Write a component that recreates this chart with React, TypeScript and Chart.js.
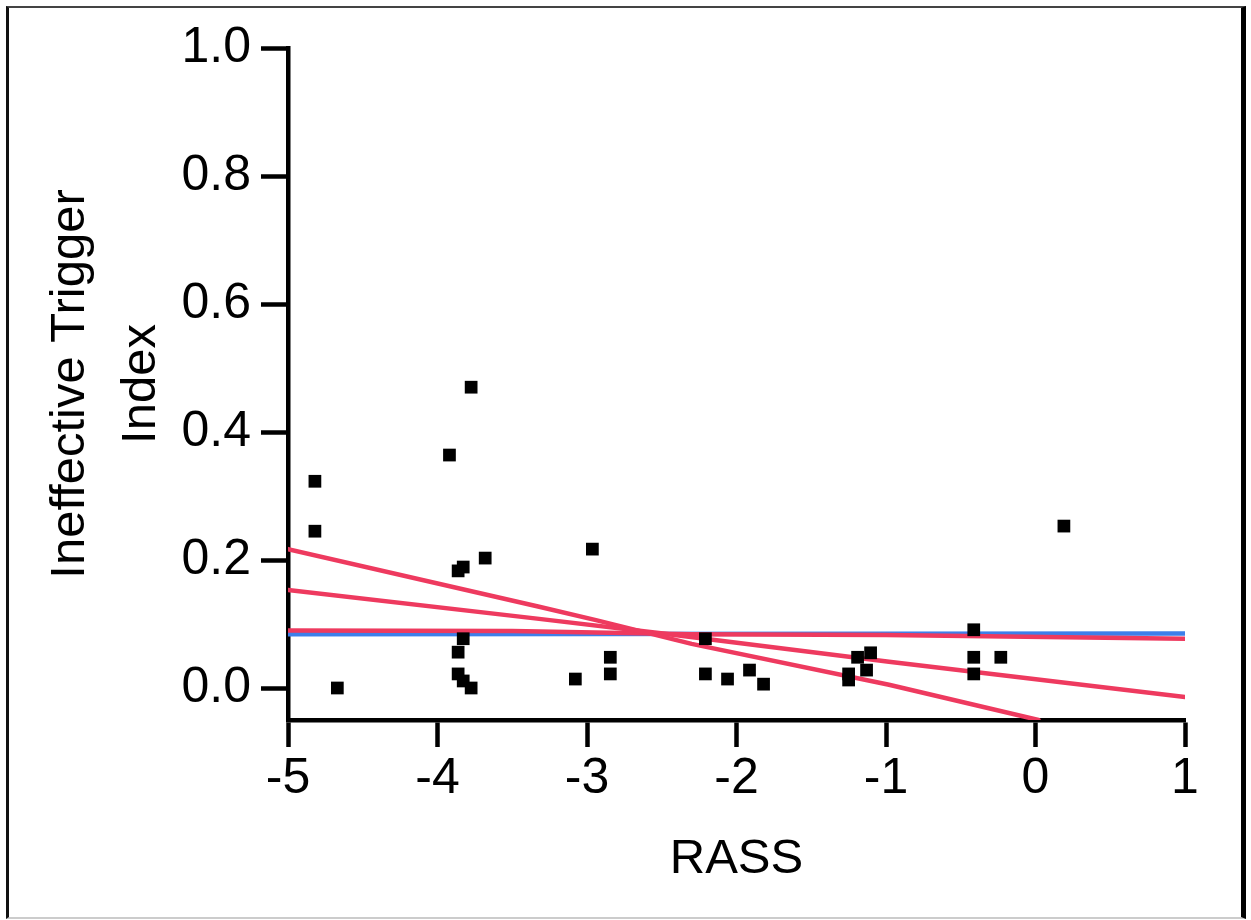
import React, { useEffect, useRef } from "react";
import { Chart, registerables } from "chart.js";

Chart.register(...registerables);

// Axis ticks
const xTicks = [-5, -4, -3, -2, -1, 0, 1];
const yTicks = [0, 0.2, 0.4, 0.6, 0.8, 1.0];

// Scatter data: RASS vs Ineffective Trigger Index
const rassValues = [
  -4.82, -4.82, -4.67, -3.92, -3.775, -3.862, -3.828, -3.681, -3.828, -3.862,
  -3.862, -3.828, -3.775, -3.078, -2.964, -2.844, -2.844, -2.208, -2.208, -2.06,
  -1.913, -1.819, -1.25, -1.25, -1.19, -1.103, -1.13, -0.413, -0.413, -0.413,
  -0.232, 0.19,
];
const itiValues = [
  0.323, 0.245, 0.0, 0.364, 0.47, 0.183, 0.189, 0.203, 0.077, 0.056,
  0.022, 0.011, 0.0, 0.014, 0.217, 0.048, 0.022, 0.077, 0.022, 0.014,
  0.028, 0.006, 0.022, 0.0125, 0.048, 0.055, 0.028, 0.091, 0.048, 0.022,
  0.048, 0.253,
];

// Fitted lines
const blueX = [-5, 1];
const blueY = [0.084, 0.085];
const redAX = [-5, -3.32, -2.94, -2.3, -0.98, 0.02];
const redAY = [0.217, 0.127, 0.106, 0.069, 0.005, -0.05];
const redBX = [-5, -3.32, -2.52, -0.98, 1];
const redBY = [0.153, 0.108, 0.086, 0.041, -0.014];
const redCX = [-5, -3.5, -2.3, -1, 1];
const redCY = [0.09, 0.089, 0.084, 0.083, 0.077];

const RED = "#ee3a5f";
const BLUE = "#3d7fea";
const FAMILY = "'Liberation Sans', Arial, Helvetica, sans-serif";

const pts = (xs: number[], ys: number[]) => xs.map((x, i) => ({ x, y: ys[i] }));

const lineDs = (xs: number[], ys: number[], color: string) => ({
  type: "scatter" as const,
  data: pts(xs, ys),
  showLine: true,
  borderColor: color,
  backgroundColor: color,
  borderWidth: 4.5,
  pointRadius: 0,
  borderCapStyle: "round" as const,
  borderJoinStyle: "round" as const,
  tension: 0,
});

export default function App() {
  const ref = useRef<HTMLCanvasElement | null>(null);

  useEffect(() => {
    if (!ref.current) return;
    const chart = new Chart(ref.current, {
      type: "scatter",
      data: {
        datasets: [
          {
            data: pts(rassValues, itiValues),
            pointStyle: "rect",
            pointRadius: 9,
            pointBorderWidth: 0,
            backgroundColor: "#000",
            borderColor: "#000",
          } as any,
          lineDs(redAX, redAY, RED),
          lineDs(redBX, redBY, RED),
          lineDs(redCX, redCY, RED),
          lineDs(blueX, blueY, BLUE),
        ],
      },
      options: {
        responsive: false,
        maintainAspectRatio: false,
        animation: false,
        devicePixelRatio: 1,
        layout: { padding: { left: 0, top: 48, right: 66, bottom: 0 } },
        plugins: { legend: { display: false }, tooltip: { enabled: false } },
        scales: {
          x: {
            type: "linear",
            min: -5,
            max: 1,
            afterBuildTicks: (s: any) => {
              s.ticks = xTicks.map((value) => ({ value }));
            },
            afterFit: (s: any) => {
              s.height = 200;
            },
            grid: {
              display: true,
              drawOnChartArea: false,
              drawTicks: true,
              tickLength: 27,
              tickWidth: 4.5,
              tickColor: "#000",
            },
            border: { display: true, width: 4.5, color: "#000" },
            ticks: {
              color: "#000",
              font: { family: FAMILY, size: 50, lineHeight: 1 },
              padding: 7,
              maxRotation: 0,
              autoSkip: false,
              callback: (v: any) => String(v),
            },
            title: {
              display: true,
              text: "RASS",
              color: "#000",
              font: { family: FAMILY, size: 49, lineHeight: 1.45 },
              padding: { top: 0, bottom: 24.5 },
            },
          },
          y: {
            type: "linear",
            min: -0.05,
            max: 1.0,
            afterBuildTicks: (s: any) => {
              s.ticks = yTicks.map((value) => ({ value }));
            },
            afterFit: (s: any) => {
              s.width = 288;
            },
            grid: {
              display: true,
              drawOnChartArea: false,
              drawTicks: true,
              tickLength: 27,
              tickWidth: 4.5,
              tickColor: "#000",
            },
            border: { display: true, width: 4.5, color: "#000" },
            ticks: {
              color: "#000",
              font: { family: FAMILY, size: 50 },
              padding: 10,
              autoSkip: false,
              callback: (v: any) => Number(v).toFixed(1),
            },
            title: {
              display: true,
              text: ["Ineffective Trigger", "Index"],
              color: "#000",
              font: { family: FAMILY, size: 49, lineHeight: 1.45 },
              padding: { top: 34.5, bottom: 0 },
            },
          },
        },
      },
    });
    return () => chart.destroy();
  }, []);

  return (
    <div
      style={{
        position: "absolute",
        left: 0,
        top: 0,
        width: 1251,
        height: 920,
        background: "#fff",
        overflow: "hidden",
      }}
    >
      <div
        style={{
          position: "absolute",
          left: 6,
          top: 6,
          width: 1240,
          height: 913,
          boxSizing: "border-box",
          borderLeft: "3px solid #111",
          borderTop: "2px solid #444",
          borderRight: "5px solid #000",
          borderBottom: "2px solid #ccc",
        }}
      />
      <canvas
        ref={ref}
        width={1251}
        height={920}
        style={{ position: "absolute", left: 0, top: 0, width: 1251, height: 920 }}
      />
    </div>
  );
}
